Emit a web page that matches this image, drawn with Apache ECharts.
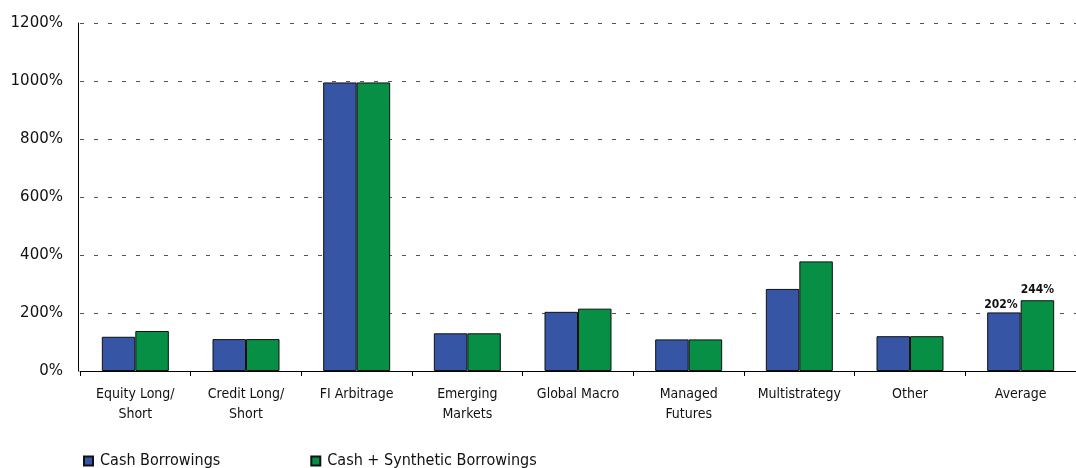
<!DOCTYPE html>
<html><head><meta charset="utf-8">
<script src="https://cdn.jsdelivr.net/npm/echarts@6/dist/echarts.min.js"></script>
<style>html,body{margin:0;padding:0;background:#fff}#c{width:1076px;height:468px}</style>
</head><body><div id="c"></div>
<script>
const categories = ["Equity Long/\nShort","Credit Long/\nShort","FI Arbitrage","Emerging\nMarkets","Global Macro","Managed\nFutures","Multistrategy","Other","Average"];
const cashBorrowings = [118, 110, 995, 130, 204, 109, 283, 120, 202];
const cashSynthetic = [138, 110, 995, 130, 215, 109, 378, 120, 244];
const yTicks = [0, 200, 400, 600, 800, 1000, 1200];
const labelled = "Average";

const chart = echarts.init(document.getElementById('c'), null, {renderer:'canvas'});
const font = '"DejaVu Sans Condensed", "DejaVu Sans", sans-serif';
function mk(vals){
  return vals.map((v,i)=>({value:v, label:{show: categories[i]===labelled}}));
}
chart.setOption({
  animation:false,
  grid:{left:80,right:-12,top:23,bottom:97,containLabel:false},
  legend:{
    left:78, bottom:-6, itemWidth:9, itemHeight:9, itemGap:90,
    textStyle:{fontFamily:font,fontSize:16,color:'#111',padding:[0,0,0,2]},
    data:[{name:'Cash Borrowings',icon:'rect'},{name:'Cash + Synthetic Borrowings',icon:'rect'}]
  },
  xAxis:{
    type:'category', data:categories,
    axisLine:{lineStyle:{color:'#000',width:1}},
    axisTick:{show:true,length:5,lineStyle:{color:'#000'}},
    axisLabel:{fontFamily:font,fontSize:14,color:'#111',margin:13,lineHeight:20,interval:0}
  },
  yAxis:{
    type:'value', min:yTicks[0], max:yTicks[yTicks.length-1], interval:200, offset:2,
    axisLine:{show:true,lineStyle:{color:'#000'}},
    axisTick:{show:false},
    axisLabel:{formatter:v=>v+'%',fontFamily:'"DejaVu Sans", sans-serif',fontSize:15,color:'#111',margin:15},
    splitLine:{show:true,lineStyle:{color:'#555',type:[4,10],width:1}}
  },
  series:[
    {name:'Cash Borrowings',type:'bar',data:mk(cashBorrowings),barWidth:33.5,barGap:'0%',
     itemStyle:{color:'#3755a5',borderColor:'#111',borderWidth:1},
     label:{position:'top',formatter:'{c}%',fontWeight:'bold',fontSize:12,color:'#111',distance:2,offset:[-3,0],fontFamily:font}},
    {name:'Cash + Synthetic Borrowings',type:'bar',data:mk(cashSynthetic),barWidth:33.5,barGap:'0%',
     itemStyle:{color:'#078f45',borderColor:'#111',borderWidth:1},
     label:{position:'top',formatter:'{c}%',fontWeight:'bold',fontSize:12,color:'#111',distance:4,fontFamily:font}}
  ]
});
</script></body></html>
